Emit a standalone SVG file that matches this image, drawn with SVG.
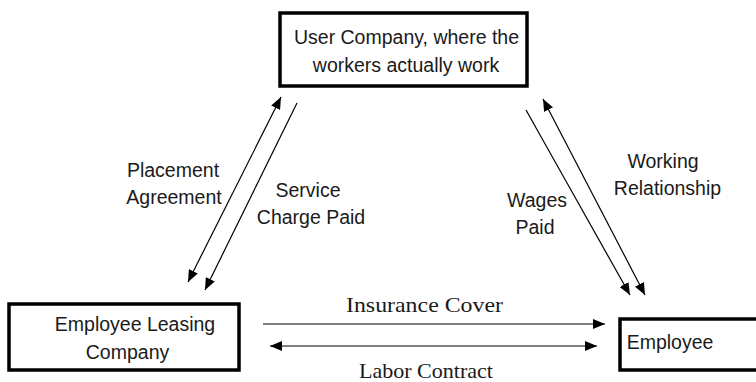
<svg xmlns="http://www.w3.org/2000/svg" width="756" height="382" viewBox="0 0 756 382">
  <style>
    .box { fill: #fff; stroke: #000; stroke-width: 3.5; }
    .lbl { font-family: "Liberation Sans", Arial, sans-serif; font-size: 19.5px; fill: #1a1a1a; text-anchor: middle; }
    .ser { font-family: "Liberation Serif", "Times New Roman", serif; font-size: 22px; fill: #1a1a1a; text-anchor: middle; }
    .ln { stroke: #000; stroke-width: 1.2; fill: none; }
  </style>
  <defs>
    <marker id="ah" viewBox="0 0 12 10" refX="12" refY="5" markerWidth="12" markerHeight="10" markerUnits="userSpaceOnUse" orient="auto-start-reverse">
      <path d="M0,0 L12,5 L0,10 Z" fill="#000"/>
    </marker>
  </defs>

  <rect width="756" height="382" fill="#fff"/>

  <g id="user-company">
    <rect class="box" x="280" y="13" width="247" height="73"/>
    <text class="lbl" x="406.5" y="43.5">User Company, where the</text>
    <text class="lbl" x="406" y="71.5">workers actually work</text>
  </g>

  <g id="leasing-company">
    <rect class="box" x="9" y="304" width="230" height="66"/>
    <text class="lbl" x="135" y="330.5">Employee Leasing</text>
    <text class="lbl" x="127.5" y="359">Company</text>
  </g>

  <g id="employee">
    <rect class="box" x="620" y="319" width="140" height="51"/>
    <text class="lbl" x="670" y="349">Employee</text>
  </g>

  <g id="connectors">
    <line class="ln" x1="188" y1="282" x2="281" y2="97" marker-start="url(#ah)" marker-end="url(#ah)"/>
    <line class="ln" x1="297" y1="103" x2="205" y2="290" marker-end="url(#ah)"/>
    <line class="ln" x1="526" y1="110" x2="630" y2="295" marker-end="url(#ah)"/>
    <line class="ln" x1="543" y1="99" x2="645" y2="295" marker-start="url(#ah)" marker-end="url(#ah)"/>
    <line class="ln" x1="263" y1="324" x2="605" y2="324" marker-end="url(#ah)"/>
    <line class="ln" x1="270" y1="346" x2="597" y2="346" marker-start="url(#ah)" marker-end="url(#ah)"/>

    <text class="lbl" x="173" y="177">Placement</text>
    <text class="lbl" x="174" y="204">Agreement</text>
    <text class="lbl" x="308" y="196.5">Service</text>
    <text class="lbl" x="311" y="224">Charge Paid</text>
    <text class="lbl" x="537" y="206.5">Wages</text>
    <text class="lbl" x="535" y="234">Paid</text>
    <text class="lbl" x="663" y="168">Working</text>
    <text class="lbl" x="667.5" y="195">Relationship</text>
    <text class="ser" x="424.5" y="311.5" textLength="157" lengthAdjust="spacingAndGlyphs">Insurance Cover</text>
    <text class="ser" x="426" y="377.5" textLength="134" lengthAdjust="spacingAndGlyphs">Labor Contract</text>
  </g>
</svg>
